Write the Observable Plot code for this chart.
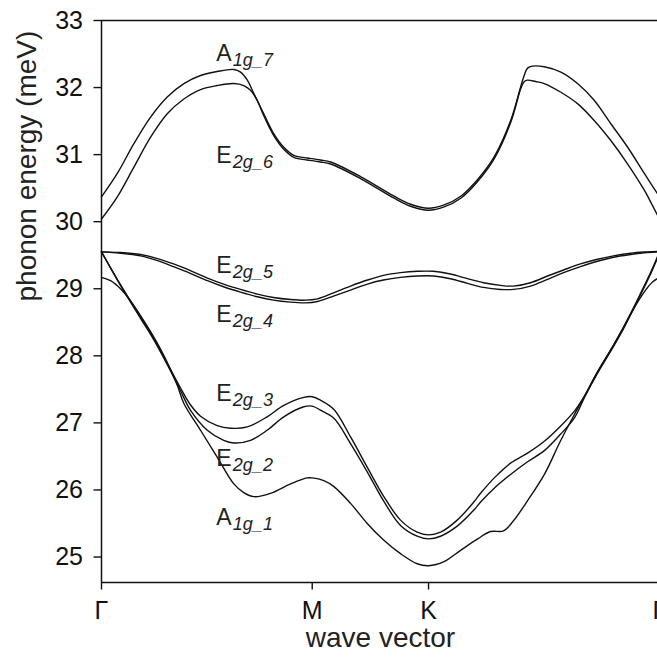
<!DOCTYPE html>
<html>
<head>
<meta charset="utf-8">
<script src="https://cdn.jsdelivr.net/npm/d3@7"></script>
<script src="https://cdn.jsdelivr.net/npm/@observablehq/plot@0.6"></script>
<style>
  html, body { margin: 0; padding: 0; background: #fff; overflow: hidden; }
  #chart svg .tick line, #chart svg [aria-label$="tick"] path { stroke-width: 1.4px; }
</style>
</head>
<body>
<div id="chart"></div>
<script>
// High-symmetry points along the path (Γ-M = 1)
const kTicks = [0, 1, 1.552, 2.648];
const kNames = ["Γ", "M", "K", "Γ"];
const eTicks = [25, 26, 27, 28, 29, 30, 31, 32, 33];

// Band 7 (A1g_7)
const k7 = [0,0.075,0.153,0.233,0.312,0.391,0.470,0.549,0.628,0.660,0.692,0.723,0.770,0.818,0.865,0.913,0.976,1.0,1.039,1.087,1.231,1.389,1.467,1.552,1.626,1.705,1.785,1.864,1.943,1.990,2.008,2.022,2.045,2.101,2.180,2.259,2.338,2.417,2.497,2.576,2.648];
const e7 = [30.37,30.72,31.16,31.56,31.86,32.06,32.18,32.24,32.27,32.23,32.11,31.91,31.61,31.31,31.11,30.99,30.95,30.94,30.92,30.89,30.67,30.38,30.26,30.20,30.25,30.38,30.63,30.97,31.52,32.02,32.20,32.29,32.32,32.31,32.23,32.06,31.81,31.46,31.11,30.72,30.37];

// Band 6 (E2g_6)
const k6 = [0,0.075,0.153,0.233,0.312,0.391,0.470,0.549,0.628,0.675,0.707,0.739,0.770,0.818,0.865,0.913,0.976,1.0,1.039,1.087,1.231,1.389,1.467,1.552,1.626,1.705,1.785,1.864,1.943,1.990,2.004,2.020,2.060,2.101,2.180,2.259,2.338,2.417,2.497,2.576,2.605,2.648];
const e6 = [30.04,30.37,30.81,31.26,31.61,31.83,31.97,32.03,32.06,32.03,31.96,31.81,31.58,31.28,31.08,30.96,30.92,30.91,30.89,30.86,30.64,30.35,30.23,30.17,30.22,30.35,30.60,30.94,31.49,31.99,32.08,32.11,32.09,32.06,31.93,31.76,31.51,31.21,30.86,30.47,30.30,30.04];

// Bands 5 and 4 (E2g_5, E2g_4)
const k45 = [0,0.090,0.185,0.266,0.342,0.422,0.503,0.579,0.660,0.740,0.816,0.897,0.968,1.025,1.101,1.182,1.262,1.338,1.419,1.500,1.576,1.656,1.737,1.813,1.894,1.955,2.036,2.117,2.193,2.273,2.354,2.430,2.511,2.591,2.648];
const e5 = [29.55,29.54,29.51,29.45,29.37,29.27,29.16,29.07,28.99,28.92,28.87,28.84,28.83,28.85,28.94,29.04,29.13,29.20,29.24,29.26,29.26,29.22,29.15,29.09,29.05,29.04,29.09,29.19,29.28,29.37,29.44,29.49,29.53,29.55,29.56];
const e4 = [29.55,29.53,29.49,29.42,29.33,29.23,29.12,29.03,28.95,28.88,28.83,28.80,28.79,28.81,28.89,28.98,29.07,29.13,29.17,29.19,29.19,29.15,29.08,29.02,28.99,28.99,29.04,29.14,29.24,29.33,29.41,29.47,29.51,29.54,29.55];

// Band 3 (E2g_3)
const k3 = [0,0.090,0.185,0.233,0.280,0.327,0.375,0.422,0.470,0.549,0.612,0.692,0.786,0.865,0.960,1.0,1.039,1.103,1.182,1.261,1.340,1.419,1.498,1.552,1.609,1.688,1.767,1.799,1.864,1.941,2.022,2.103,2.178,2.245,2.292,2.354,2.430,2.478,2.525,2.572,2.610,2.648];
const e3 = [29.55,29.06,28.58,28.34,28.08,27.80,27.52,27.27,27.10,26.96,26.92,26.94,27.09,27.26,27.38,27.39,27.34,27.20,26.79,26.34,25.90,25.55,25.37,25.33,25.37,25.55,25.82,25.95,26.18,26.40,26.55,26.73,26.95,27.18,27.40,27.76,28.16,28.43,28.72,29.02,29.27,29.55];

// Band 2 (E2g_2)
const k2 = [0,0.090,0.185,0.233,0.280,0.327,0.375,0.422,0.502,0.580,0.628,0.707,0.786,0.865,0.960,1.0,1.039,1.103,1.182,1.261,1.340,1.419,1.498,1.552,1.609,1.688,1.767,1.799,1.865,1.941,2.022,2.103,2.178,2.245,2.292,2.354,2.430,2.478,2.525,2.572,2.610,2.648];
const e2 = [29.55,29.05,28.56,28.32,28.06,27.78,27.48,27.19,26.89,26.74,26.70,26.74,26.89,27.09,27.24,27.25,27.19,27.07,26.69,26.27,25.83,25.47,25.31,25.27,25.31,25.46,25.70,25.82,26.03,26.23,26.42,26.59,26.83,27.08,27.38,27.74,28.14,28.41,28.70,29.00,29.25,29.53];

// Band 1 (A1g_1)
const k1 = [0,0.043,0.090,0.138,0.185,0.233,0.280,0.327,0.361,0.391,0.470,0.549,0.628,0.675,0.723,0.802,0.897,0.976,1.0,1.055,1.103,1.182,1.261,1.340,1.419,1.498,1.552,1.625,1.704,1.785,1.846,1.908,1.955,2.022,2.103,2.178,2.245,2.292,2.354,2.430,2.478,2.511,2.544,2.582,2.615,2.648];
const e1 = [29.17,29.12,29.00,28.82,28.60,28.36,28.10,27.80,27.55,27.29,26.89,26.49,26.09,25.96,25.90,25.95,26.09,26.18,26.18,26.14,26.05,25.80,25.50,25.25,25.05,24.90,24.87,24.93,25.10,25.27,25.38,25.39,25.54,25.84,26.24,26.73,27.13,27.40,27.76,28.16,28.43,28.62,28.80,28.98,29.10,29.17];

// Band labels
const labelBase = ["A", "E", "E", "E", "E", "E", "A"];
const labelSub = ["1g_7", "2g_6", "2g_5", "2g_4", "2g_3", "2g_2", "1g_1"];
const labelK = [0.545, 0.545, 0.545, 0.545, 0.545, 0.545, 0.545];
const labelE = [32.40, 30.87, 29.24, 28.50, 27.33, 26.36, 25.48];

const yLabel = "phonon energy (meV)";
const xLabel = "wave vector";
const eMin = 24.62, eMax = 33;

const bands = [
  ["b7", k7, e7], ["b6", k6, e6], ["b5", k45, e5], ["b4", k45, e4],
  ["b3", k3, e3], ["b2", k2, e2], ["b1", k1, e1]
];
const rows = bands.flatMap(([name, ks, es]) => ks.map((k, i) => ({band: name, k, e: es[i]})));
const labels = labelBase.map((b, i) => ({base: b, sub: labelSub[i], k: labelK[i], e: labelE[i]}));

const chart = Plot.plot({
  width: 657,
  height: 662,
  marginLeft: 101,
  marginRight: -2,
  marginTop: 20,
  marginBottom: 80,
  style: {fontSize: "25px", fontFamily: "'Liberation Sans', Arial, sans-serif", color: "#111", background: "#fff"},
  x: {domain: [kTicks[0], kTicks[kTicks.length - 1]], ticks: kTicks, tickFormat: d => kNames[kTicks.indexOf(d)], tickSize: 7.5, tickPadding: 11, label: null},
  y: {domain: [eMin, eMax], ticks: eTicks, tickFormat: d => String(d), tickSize: 7.5, tickPadding: 11, label: null},
  marks: [
    Plot.ruleY([eMax], {stroke: "#111", strokeWidth: 1.5}),
    Plot.ruleY([eMin], {stroke: "#111", strokeWidth: 1.5}),
    Plot.ruleX([kTicks[0]], {stroke: "#111", strokeWidth: 1.5}),
    Plot.ruleX([kTicks[kTicks.length - 1]], {stroke: "#111", strokeWidth: 1.5}),
    Plot.line(rows, {x: "k", y: "e", z: "band", stroke: "#111", strokeWidth: 1.4, curve: "catmull-rom"}),
    Plot.text(labels, {x: "k", y: "e", text: "base", textAnchor: "start", fontSize: 23, dy: -7.4, fill: "#222"}),
    Plot.text(labels, {x: "k", y: "e", text: "sub", textAnchor: "start", fontSize: 18, fontStyle: "italic", dx: 16.5, dy: -0.8, fill: "#222"}),
    Plot.text([yLabel], {text: d => d, frameAnchor: "left", rotate: -90, dx: -74.5, fontSize: 28, fill: "#222"}),
    Plot.text([xLabel], {text: d => d, frameAnchor: "bottom", dy: 64.5, fontSize: 28, fill: "#222"})
  ]
});
document.getElementById("chart").appendChild(chart);
</script>
</body>
</html>
